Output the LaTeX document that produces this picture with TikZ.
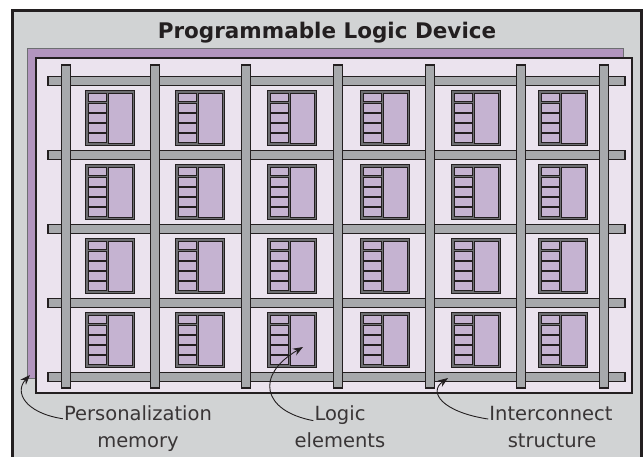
\documentclass[tikz,border=0pt]{standalone}
\usepackage{fontspec}
\setmainfont{DejaVu Sans}
\usetikzlibrary{arrows.meta}

\definecolor{ink}{HTML}{231F20}
\definecolor{casegray}{HTML}{D1D3D4}
\definecolor{memcol}{HTML}{B295BE}
\definecolor{diecol}{HTML}{EBE3EE}
\definecolor{barcol}{HTML}{A7A9AC}
\definecolor{legray}{HTML}{6D6E71}
\definecolor{lecol}{HTML}{C5B3D1}

\tikzset{
  caseframe/.style={fill=casegray, draw=ink, line width=3},
  memlayer/.style={fill=memcol, draw=legray, line width=0.8},
  dielayer/.style={fill=diecol, draw=ink, line width=1.2},
  bar/.style={fill=barcol, draw=ink, line width=1.3},
  lecell/.style={fill=lecol, draw=ink, line width=0.7},
  title/.style={font=\bfseries\fontsize{21.5}{26}\selectfont, text=ink, anchor=base},
  lbl/.style={font=\fontsize{19.5}{24}\selectfont, text=ink!90, anchor=base, inner sep=1pt},
  leader/.style={draw=ink, line width=0.9, -{Stealth[length=10pt, width=7.5pt]}},
  logic element/.pic={
    \draw[fill=legray, draw=ink, line width=0.6] (-24.5,-27.5) rectangle (24.5,27.5);
    \draw[lecell] (-2,-25) rectangle (22,25);
    \foreach \i in {0,...,4}
      \draw[lecell] (-22,-25+\i*10.2) rectangle (-4,-16.2+\i*10.2);
  }
}

\begin{document}
\begin{tikzpicture}[x=1pt, y=-1pt]
\useasboundingbox (0,0) rectangle (644,456);

% device case, open at the bottom
\begin{scope}
  \clip (0,0) rectangle (644,456);
  \draw[caseframe] (12,10) rectangle (641,475);
\end{scope}

\node[title] (ttl) at (327,38) {Programmable Logic Device};

% personalization memory layer and the logic die on top of it
\draw[memlayer] (27,48) rectangle (623,378);
\draw[dielayer] (36,58) rectangle (632,393);

% interconnect: horizontal tracks first, vertical tracks over them
\foreach \y in {81,155,229,303,377}
  \draw[bar] (48,\y-4.5) rectangle (625,\y+4.5);
\foreach \x in {66,155,246,338,430,521,604}
  \draw[bar] (\x-4.5,65) rectangle (\x+4.5,388);

% array of logic elements
\foreach \x in {110,200,292,385,476,563}
  \foreach \y in {118,192,266,340}
    \pic at (\x,\y) {logic element};

% labels
\node[lbl] (pers)  at (138,420) {Personalization};
\node[lbl] (pers2) at (138,447) {memory};
\node[lbl] (logic)  at (340,420) {Logic};
\node[lbl] (logic2) at (340,447) {elements};
\node[lbl] (inter)  at (551,420) {Interconnect};
\node[lbl] (inter2) at (552,447) {structure};

% leader tips
\coordinate (memtip) at (30,375);
\coordinate (letip) at (303,347);
\coordinate (ictip) at (448,378);

\draw[leader] ([yshift=-6pt]pers.west) .. controls (25,413) and (14,392) .. (memtip);
\draw[leader] ([yshift=-6pt]logic.west) .. controls (262,411) and (255,375) .. (letip);
\draw[leader] ([yshift=-6pt]inter.west) .. controls (442,412) and (428,392) .. (ictip);
\end{tikzpicture}
\end{document}
